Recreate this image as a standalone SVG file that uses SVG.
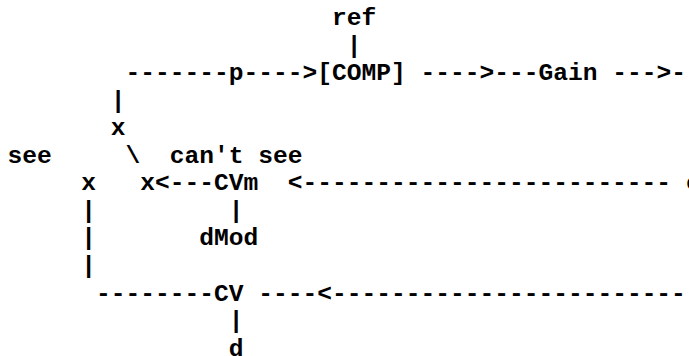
<svg xmlns="http://www.w3.org/2000/svg" width="689" height="356" viewBox="0 0 689 356">
  <style>
    text { font-family: "Liberation Mono", "Courier New", "DejaVu Sans Mono", monospace; font-size: 24.58px; font-weight: bold; fill: #000; white-space: pre; }
  </style>
  <rect width="689" height="356" fill="#fff"/>
  <!-- character grid: column c at x = 7.4 + 14.75*c, row r baseline at y = 25 + 27.55*r -->
  <g id="connectors">
    <text x="346.65" y="52.55">|</text>
    <text x="125.4" y="80.1">-------</text>
    <text x="243.4" y="80.1">----&gt;</text>
    <text x="420.4" y="80.1">----&gt;---</text>
    <text x="612.15" y="80.1">---&gt;-</text>
    <text x="110.65" y="107.65">|</text>
    <text x="125.4" y="162.75">\</text>
    <text x="154.9" y="190.3">&lt;---</text>
    <text x="287.65" y="190.3">&lt;-------------------------</text>
    <text x="81.15" y="217.85">|</text>
    <text x="228.65" y="217.85">|</text>
    <text x="81.15" y="245.4">|</text>
    <text x="81.15" y="272.95">|</text>
    <text x="95.9" y="300.5">--------</text>
    <text x="258.15" y="300.5">----&lt;</text>
    <text x="331.9" y="300.5">------------------------</text>
    <text x="228.65" y="328.05">|</text>
  </g>
  <g id="node-ref"><text x="331.9" y="25">ref</text></g>
  <g id="label-p"><text x="228.65" y="80.1">p</text></g>
  <g id="node-comp"><text x="317.15" y="80.1">[COMP]</text></g>
  <g id="node-gain"><text x="538.4" y="80.1">Gain</text></g>
  <g id="node-x-top"><text x="110.65" y="135.2">x</text></g>
  <g id="label-see"><text x="7.4" y="162.75">see</text></g>
  <g id="label-cant-see"><text x="169.65" y="162.75">can't see</text></g>
  <g id="node-x-left"><text x="81.15" y="190.3">x</text></g>
  <g id="node-x-right"><text x="140.15" y="190.3">x</text></g>
  <g id="node-cvm"><text x="213.9" y="190.3">CVm</text></g>
  <g id="node-c"><text x="685.9" y="190.3">c</text></g>
  <g id="node-dmod"><text x="199.15" y="245.4">dMod</text></g>
  <g id="node-cv"><text x="213.9" y="300.5">CV</text></g>
  <g id="node-d"><text x="228.65" y="355.6">d</text></g>
</svg>
